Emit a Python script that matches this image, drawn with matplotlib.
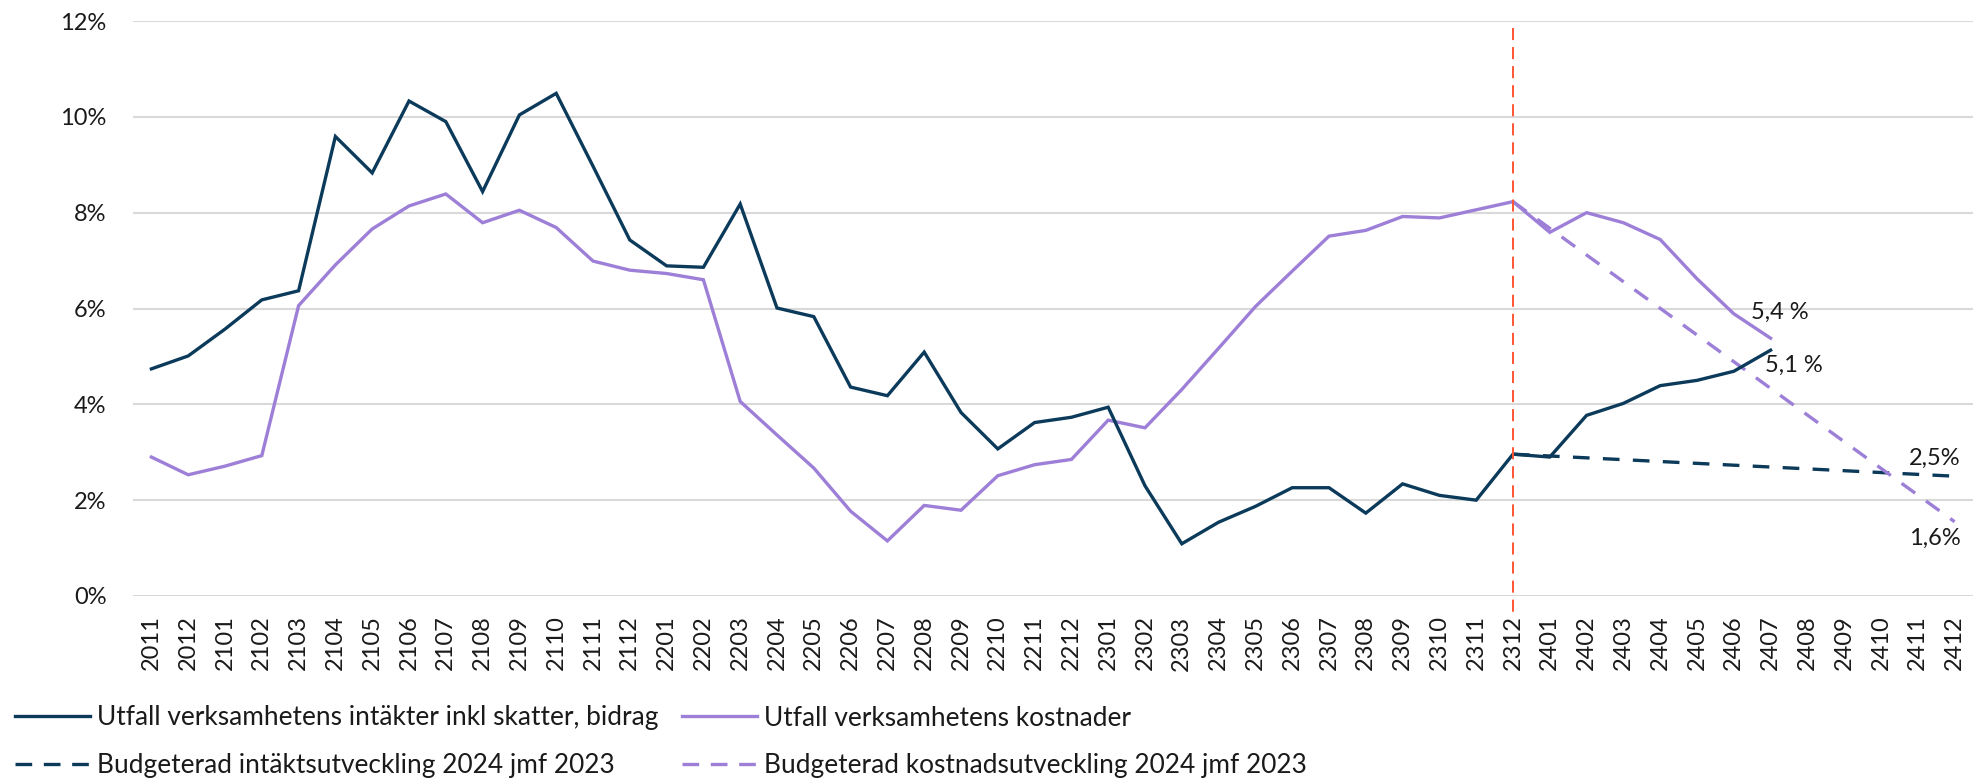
import matplotlib
matplotlib.use("Agg")
import matplotlib.pyplot as plt
from matplotlib import font_manager
from matplotlib.ticker import FuncFormatter
from matplotlib.lines import Line2D

# ---------------- data ----------------
categories = ["2011", "2012",
              "2101", "2102", "2103", "2104", "2105", "2106", "2107", "2108", "2109", "2110", "2111", "2112",
              "2201", "2202", "2203", "2204", "2205", "2206", "2207", "2208", "2209", "2210", "2211", "2212",
              "2301", "2302", "2303", "2304", "2305", "2306", "2307", "2308", "2309", "2310", "2311", "2312",
              "2401", "2402", "2403", "2404", "2405", "2406", "2407", "2408", "2409", "2410", "2411", "2412"]

intakter = [4.74, 5.01, 5.57, 6.18, 6.37, 9.59, 8.83, 10.33, 9.90, 8.44, 10.04, 10.49, 8.97, 7.43,
            6.89, 6.86, 8.18, 6.01, 5.83, 4.36, 4.18, 5.09, 3.83, 3.07, 3.62, 3.73,
            3.94, 2.30, 1.09, 1.54, 1.87, 2.26, 2.26, 1.73, 2.34, 2.10, 2.00, 2.96,
            2.90, 3.77, 4.02, 4.39, 4.50, 4.69, 5.13]

kostnader = [2.90, 2.53, 2.71, 2.93, 6.06, 6.91, 7.66, 8.14, 8.39, 7.79, 8.05, 7.69, 6.99, 6.80,
             6.73, 6.60, 4.06, 3.36, 2.67, 1.77, 1.15, 1.89, 1.79, 2.51, 2.74, 2.85,
             3.67, 3.51, 4.31, 5.17, 6.04, 6.78, 7.51, 7.63, 7.92, 7.89, 8.06, 8.23,
             7.59, 8.00, 7.79, 7.44, 6.62, 5.89, 5.38]

budget_cats = ["2312", "2412"]
budget_intakter = [2.96, 2.50]
budget_kostnader = [8.23, 1.55]

marker_cat = "2312"

labels = ["Utfall verksamhetens intäkter inkl skatter, bidrag",
          "Utfall verksamhetens kostnader",
          "Budgeterad intäktsutveckling 2024 jmf 2023",
          "Budgeterad kostnadsutveckling 2024 jmf 2023"]

annotations = [("2406", 5.93, "5,4 %"), ("2406", 4.82, "5,1 %"),
               ("2410", 2.88, "2,5%"), ("2410", 1.21, "1,6%")]
annot_offset = [0.47, 0.85, 0.76, 0.76]

# ---------------- style ----------------
NAVY = "#0B3A5A"
PURPLE = "#9D7FD8"
RED = "#FF5533"
GRID = "#D9D9D9"
TXT = "#1A1A1A"

names = {f.name for f in font_manager.fontManager.ttflist}
base_font = "Lato" if "Lato" in names else "DejaVu Sans"
plt.rcParams["font.family"] = [base_font, "DejaVu Sans"]

W, H = 1973, 780
fig = plt.figure(figsize=(W / 100, H / 100), dpi=100)
ax = fig.add_axes([133 / W, 1 - 596 / H, 1 - 133 / W, (596 - 21) / H])
renderer = fig.canvas.get_renderer()

# legend font size fitted so the first label spans about as wide as in the reference
probe = fig.text(0, 0, labels[0], fontsize=19)
w19 = probe.get_window_extent(renderer).width
probe.remove()
leg_size = 19.0 * 561.0 / w19
text_w = 561.0

x = list(range(len(categories)))
idx = {c: i for i, c in enumerate(categories)}

ax.plot(x[:len(intakter)], intakter, color=NAVY, lw=2.4, solid_joinstyle="miter", zorder=4)
ax.plot(x[:len(kostnader)], kostnader, color=PURPLE, lw=2.4, solid_joinstyle="miter", zorder=3)
bx = [idx[c] for c in budget_cats]
ax.plot(bx, budget_intakter, color=NAVY, lw=2.4, dashes=(5, 4), zorder=2)
ax.plot(bx, budget_kostnader, color=PURPLE, lw=2.4, dashes=(5, 4), zorder=2)

mx = idx[marker_cat]
ax.plot([mx, mx], [11.86, -0.33], color=RED, lw=1.4, dashes=(6.2, 3.6), clip_on=False, zorder=5)

for (c, yv, t), off in zip(annotations, annot_offset):
    ax.text(idx[c] + off, yv, t, ha="left", va="center", fontsize=17, color=TXT)

ax.set_xlim(-0.5, len(categories) - 0.5)
ax.set_ylim(0, 12)
ax.set_yticks([0, 2, 4, 6, 8, 10, 12])
ax.yaxis.set_major_formatter(FuncFormatter(lambda v, p: f"{v:.0f}%"))
ax.set_xticks(x)
ax.set_xticklabels(categories, rotation=90)
ax.tick_params(axis="x", length=0, pad=14, labelsize=17, labelcolor=TXT)
ax.tick_params(axis="y", length=0, pad=19, labelsize=17, labelcolor=TXT)
ax.grid(axis="y", color=GRID, lw=1.5)
ax.set_axisbelow(True)
for s in ax.spines.values():
    s.set_visible(False)

handles = [Line2D([], [], color=NAVY, lw=2.4),
           Line2D([], [], color=PURPLE, lw=2.4),
           Line2D([], [], color=NAVY, lw=2.4, dashes=(5.0, 3.5)),
           Line2D([], [], color=PURPLE, lw=2.4, dashes=(5.0, 3.5))]
order = [0, 2, 1, 3]
em = leg_size * 100 / 72.0


def make_legend(top_px, spacing):
    return fig.legend([handles[i] for i in order], [labels[i] for i in order],
                      ncol=2, loc="upper left", bbox_to_anchor=(15 / W, 1 - top_px / H),
                      frameon=False, fontsize=leg_size, handlelength=75 / em, handletextpad=7 / em,
                      columnspacing=(681 - 15 - 75 - 7 - text_w) / em, labelspacing=spacing,
                      borderpad=0, borderaxespad=0)


# calibrate legend rows to reference centres (718 px and 766 px from top)
leg = make_legend(702, 0.6)
fig.canvas.draw()
tx = leg.get_texts()
def ctr(t):
    bb = t.get_window_extent(renderer)
    return H - (bb.y0 + bb.y1) / 2
c1, c2 = ctr(tx[0]), ctr(tx[1])
spacing = 0.6 + ((766 - 718) - (c2 - c1)) / em
top = 702 + (718 - c1)
leg.remove()
leg = make_legend(top, spacing)
for t in leg.get_texts():
    t.set_color(TXT)

fig.savefig("out.png", dpi=100)
